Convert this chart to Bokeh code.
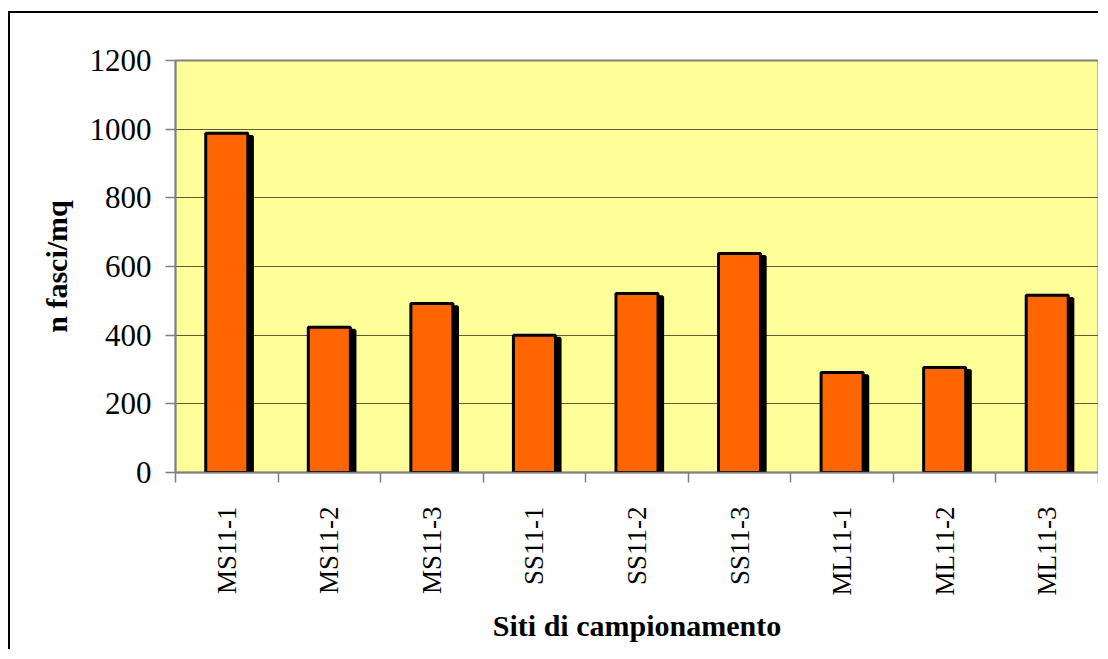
from bokeh.plotting import figure
from bokeh.models import ColumnDataSource, FixedTicker, Range1d
from bokeh.transform import dodge
from bokeh.embed import file_html
from bokeh.resources import INLINE
import math

# ---- data ----
sites = ["MS11-1", "MS11-2", "MS11-3", "SS11-1", "SS11-2", "SS11-3", "ML11-1", "ML11-2", "ML11-3"]
fasci = [988, 423, 492, 400, 521, 638, 291, 306, 516]
y_ticks = [0, 200, 400, 600, 800, 1000, 1200]
x_title = "Siti di campionamento"
y_title = "n fasci/mq"

centers = [i + 0.5 for i in range(len(sites))]
bounds = list(range(len(sites) + 1))
SHADOW_DY = 9  # shadow drop in data units (~3px)
src = ColumnDataSource(dict(x=centers, top=fasci,
                            stop=[v - SHADOW_DY for v in fasci],
                            bottom=[-SHADOW_DY] * len(fasci)))

FONT = "Liberation Serif"

p = figure(width=1090, height=638, output_backend="svg", toolbar_location=None,
           x_range=Range1d(0, len(sites)), y_range=Range1d(0, 1200),
           min_border_left=165, min_border_top=47, min_border_right=2, min_border_bottom=179)
p.styles = {"margin-left": "8px", "margin-top": "11px",
            "border-left": "2px solid black", "border-top": "2px solid black"}

p.background_fill_color = "#FFFF99"
p.border_fill_color = "white"
p.outline_line_color = "#808080"
p.outline_line_width = 2

# shadow
p.vbar(x=dodge("x", 0.045), top="stop", bottom="bottom", width=0.41, source=src,
       fill_color="black", line_color="black", line_width=3)
# bars
p.vbar(x="x", top="top", bottom=0, width=0.41, source=src,
       fill_color="#FF6600", line_color="black", line_width=3)

# grid
p.xgrid.visible = False
p.ygrid.ticker = FixedTicker(ticks=y_ticks)
p.ygrid.grid_line_color = "#5c5c3a"
p.ygrid.grid_line_width = 1

# y axis
ya = p.yaxis[0]
ya.ticker = FixedTicker(ticks=y_ticks)
ya.axis_line_color = "#808080"
ya.axis_line_width = 1.5
ya.major_tick_line_color = "#808080"
ya.major_tick_line_width = 1.5
ya.major_tick_out = 10
ya.major_tick_in = 0
ya.minor_tick_line_color = None
ya.major_label_text_font = FONT
ya.major_label_text_font_size = "31px"
ya.major_label_text_color = "black"
ya.major_label_standoff = 14
ya.axis_label = y_title
ya.axis_label_text_font = FONT
ya.axis_label_text_font_style = "bold"
ya.axis_label_text_font_size = "30px"
ya.axis_label_text_color = "black"
ya.axis_label_standoff = 14

# x axis
xa = p.xaxis[0]
xa.ticker = FixedTicker(ticks=centers, minor_ticks=bounds)
xa.major_label_overrides = {c: s for c, s in zip(centers, sites)}
xa.major_label_orientation = math.pi / 2
xa.axis_line_color = "#808080"
xa.axis_line_width = 1.5
xa.major_tick_line_color = None
xa.major_tick_out = 0
xa.major_tick_in = 0
xa.minor_tick_line_color = "#808080"
xa.minor_tick_line_width = 1.5
xa.minor_tick_out = 10
xa.minor_tick_in = 0
xa.major_label_text_font = FONT
xa.major_label_text_font_size = "27px"
xa.major_label_text_color = "black"
xa.major_label_standoff = 24
xa.axis_label = x_title
xa.axis_label_text_font = FONT
xa.axis_label_text_font_style = "bold"
xa.axis_label_text_font_size = "30px"
xa.axis_label_text_color = "black"
xa.axis_label_standoff = 11

open("out.html", "w").write(file_html(p, INLINE))
